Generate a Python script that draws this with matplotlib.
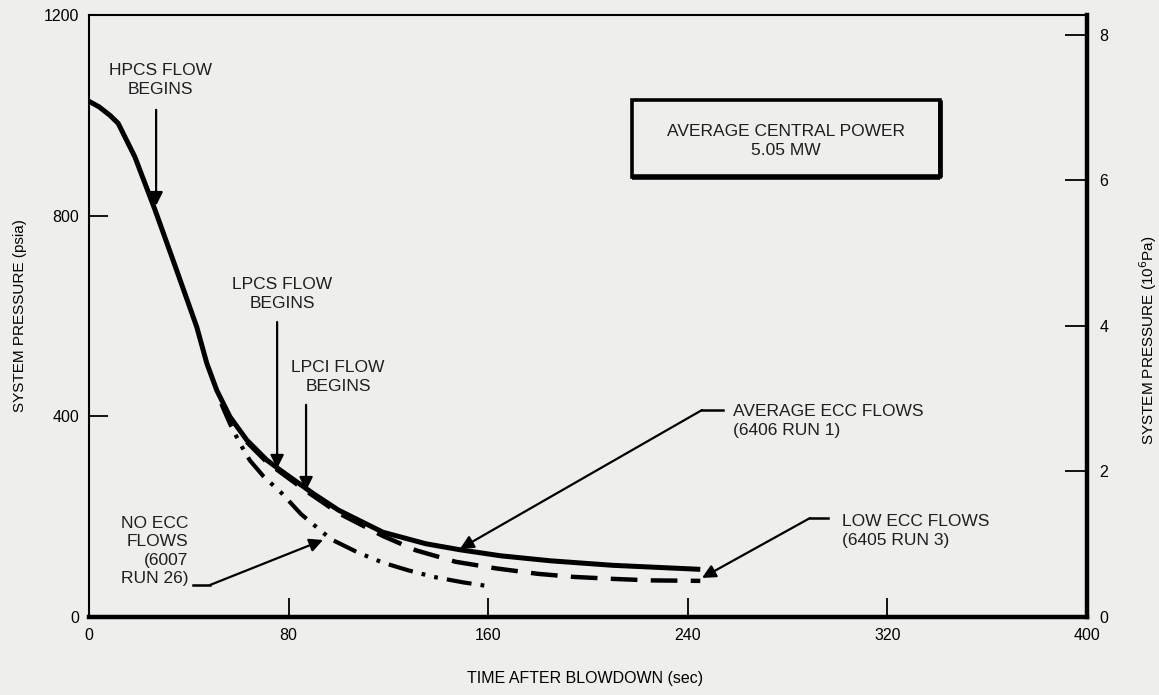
import matplotlib
matplotlib.use("Agg")
import matplotlib.pyplot as plt
from matplotlib import font_manager
from matplotlib.patches import Rectangle

# time after blowdown (sec) and system pressure (psia)
avg_time = [0, 4, 8.4, 11.7, 18.4, 26.5, 34.5, 43.2, 47.2, 51.2, 56.5, 63.2, 71.2,
            76.6, 85.9, 89.9, 100, 117.8, 135, 148.7, 165, 185, 210, 245]
avg_psia = [1028, 1017, 1000, 984, 917, 811, 700, 578, 506, 452, 399, 353, 313,
            293, 260, 246, 213, 169, 146, 134, 122, 112, 103, 95]

low_time = [63.2, 71.2, 76.6, 85.9, 100, 118, 131, 147, 163, 180, 194, 210, 225, 245]
low_psia = [349, 309, 289, 255, 207, 161, 133, 110, 97, 86, 80, 76, 73, 72]

no_time = [53, 56.5, 60.5, 64.5, 70, 77, 85, 97, 108, 118, 128, 138, 150, 162]
no_psia = [425, 385, 346, 312, 280, 248, 205, 155, 128, 108, 93, 80, 69, 60]

x_ticks = [0, 80, 160, 240, 320, 400]
y_ticks = [0, 400, 800, 1200]
mpa_ticks = [0, 2, 4, 6, 8]
PSI_TO_MPA = 0.006894757

names = {f.name for f in font_manager.fontManager.ttflist}
narrow = "Liberation Sans Narrow" if "Liberation Sans Narrow" in names else "Liberation Sans"
plt.rcParams["font.family"] = "Liberation Sans"

bg = "#eeeeec"
fig = plt.figure(figsize=(11.59, 6.95), dpi=100, facecolor=bg)
ax = fig.add_axes([89 / 1159, 1 - 617 / 695, (1087 - 89) / 1159, (617 - 15) / 695])
ax.set_facecolor(bg)

ax.plot(avg_time, avg_psia, color="k", lw=3.6, solid_capstyle="butt",
        solid_joinstyle="round", zorder=4)
ax.plot(low_time, low_psia, color="k", lw=3.2, dash_capstyle="butt",
        linestyle=(0, (6, 3)), zorder=3)
ax.plot(no_time, no_psia, color="k", lw=3.0, dash_capstyle="butt",
        linestyle=(0, (6, 2.2, 0.9, 2.2, 0.9, 2.2)), zorder=3)

ax.set_xlim(0, 400)
ax.set_ylim(0, 1200)
ax.set_xticks(x_ticks)
ax.set_yticks(y_ticks)
ax.tick_params(axis="both", direction="in", length=14, width=1.3, labelsize=11.5,
               colors="k")
ax.tick_params(axis="x", pad=8)
ax.tick_params(axis="y", pad=7)
ax.set_yticklabels(["0", "400", "800", "1200"])
for lab in ax.get_xticklabels() + ax.get_yticklabels():
    lab.set_family(narrow)

ax.spines["left"].set_linewidth(1.5)
ax.spines["top"].set_linewidth(1.5)
ax.spines["bottom"].set_linewidth(3.2)
ax.spines["right"].set_linewidth(3.2)

ax2 = ax.twinx()
ax2.set_ylim(0, 1200 * PSI_TO_MPA)
ax2.set_yticks(mpa_ticks)
ax2.tick_params(axis="y", direction="in", length=16, width=1.3, labelsize=11.5, pad=9)
for lab in ax2.get_yticklabels():
    lab.set_family(narrow)
for s in ax2.spines.values():
    s.set_visible(False)

# axis titles
fig.text(20 / 1159, 1 - 316 / 695, "SYSTEM PRESSURE (psia)", rotation=90,
         ha="center", va="center", fontsize=11)
fig.text(1148 / 1159, 1 - 340 / 695, "SYSTEM PRESSURE (10$^{6}$Pa)", rotation=90,
         ha="center", va="center", fontsize=11)
fig.text(585 / 1159, 1 - 678 / 695, "TIME AFTER BLOWDOWN (sec)", ha="center",
         va="center", fontsize=11.5, family=narrow)

txt = dict(fontsize=12.5, color="#1e1e1e", linespacing=1.3)
arr = dict(arrowstyle="-|>", color="k", lw=1.6, mutation_scale=20,
           shrinkA=0, shrinkB=0)

# event arrows
ax.text(28.5, 1070, "HPCS FLOW\nBEGINS", ha="center", va="center", **txt)
ax.annotate("", xy=(26.9, 820), xytext=(26.9, 1011), arrowprops=arr)
ax.text(77.4, 644, "LPCS FLOW\nBEGINS", ha="center", va="center", **txt)
ax.annotate("", xy=(75.4, 296), xytext=(75.4, 588), arrowprops=arr)
ax.text(99.8, 478, "LPCI FLOW\nBEGINS", ha="center", va="center", **txt)
ax.annotate("", xy=(87, 252), xytext=(87, 423), arrowprops=arr)

# curve labels with leaders
ax.text(258.1, 391, "AVERAGE ECC FLOWS\n(6406 RUN 1)", ha="left", va="center", **txt)
ax.plot([254.1, 245.7], [412.6, 412.6], color="k", lw=1.8)
ax.annotate("", xy=(148.7, 136), xytext=(245.7, 412.6), arrowprops=arr)

ax.text(301.8, 171, "LOW ECC FLOWS\n(6405 RUN 3)", ha="left", va="center", **txt)
ax.plot([296.2, 289], [197.3, 197.3], color="k", lw=1.8)
ax.annotate("", xy=(245.7, 78), xytext=(289, 197.3), arrowprops=arr)

ax.text(39.7, 131.5, "NO ECC\nFLOWS\n(6007\nRUN 26)", ha="right", va="center",
        multialignment="right", **txt)
ax.plot([41.7, 48.5], [63.8, 63.8], color="k", lw=1.8)
ax.annotate("", xy=(93.8, 153.5), xytext=(48.5, 63.8), arrowprops=arr)

# power box
ax.add_patch(Rectangle((217.6, 877), 341 - 217.6, 1030.5 - 877, fill=False,
                       lw=2.6, edgecolor="k", zorder=5, joinstyle="miter"))
ax.plot([217.6, 341], [877, 877], color="k", lw=4, zorder=5, solid_capstyle="butt")
ax.plot([341, 341], [877, 1030.5], color="k", lw=3.4, zorder=5, solid_capstyle="butt")
ax.text(279.4, 949, "AVERAGE CENTRAL POWER\n5.05 MW", ha="center", va="center", **txt)

fig.savefig("out.png", dpi=100, facecolor=bg)
